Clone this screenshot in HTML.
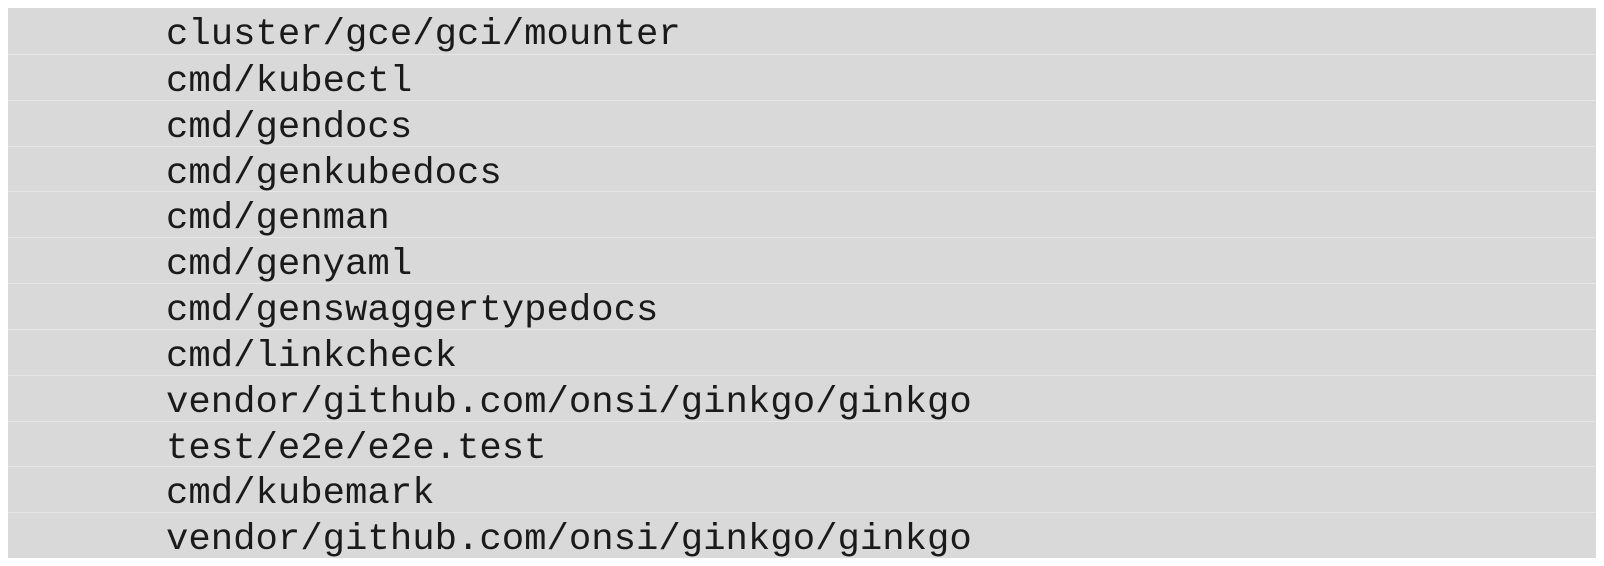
<!DOCTYPE html>
<html><head><style>
body{margin:0;background:#fff;width:1604px;height:566px;overflow:hidden}
.box{position:absolute;left:8px;top:8px;width:1588px;height:550px;background:#d9d9d9}
.r{position:absolute;left:0;width:1588px;height:45.83px;border-top:1px solid #e6e6e6;box-sizing:border-box;font-family:"Liberation Mono",monospace;font-size:37.3px;line-height:45px;padding-top:5px;padding-left:158px;color:#1a1a1a;white-space:pre}
</style></head><body><div class="box">
<div class="r" style="top:0;border-top:none">cluster/gce/gci/mounter</div>
<div class="r" style="top:45.83px">cmd/kubectl</div>
<div class="r" style="top:91.67px">cmd/gendocs</div>
<div class="r" style="top:137.5px">cmd/genkubedocs</div>
<div class="r" style="top:183.33px">cmd/genman</div>
<div class="r" style="top:229.17px">cmd/genyaml</div>
<div class="r" style="top:275px">cmd/genswaggertypedocs</div>
<div class="r" style="top:320.83px">cmd/linkcheck</div>
<div class="r" style="top:366.67px">vendor/github.com/onsi/ginkgo/ginkgo</div>
<div class="r" style="top:412.5px">test/e2e/e2e.test</div>
<div class="r" style="top:458.33px">cmd/kubemark</div>
<div class="r" style="top:504.17px">vendor/github.com/onsi/ginkgo/ginkgo</div>
</div></body></html>
